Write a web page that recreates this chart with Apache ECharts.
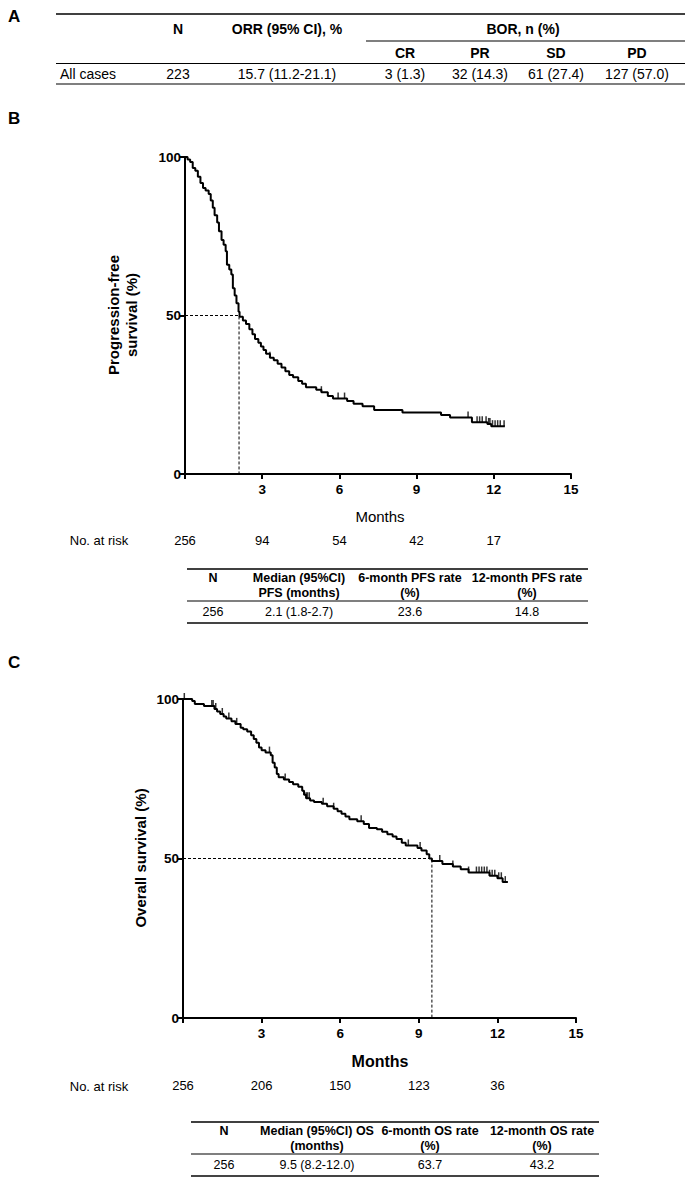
<!DOCTYPE html>
<html><head><meta charset="utf-8">
<script src="https://cdn.jsdelivr.net/npm/echarts@6/dist/echarts.min.js"></script>
<style>html,body{margin:0;padding:0;background:#fff}#c{width:685px;height:1178px}</style>
</head><body><div id="c"></div>
<script>
// ---------- DATA ----------
const xTickValues = [0, 3, 6, 9, 12, 15];
const riskTimes = [0, 3, 6, 9, 12];
const pfsRisk = [256, 94, 54, 42, 17];
const osRisk = [256, 206, 150, 123, 36];

const pfsTime = [0,0.1,0.2,0.3,0.4,0.5,0.6,0.7,0.8,0.92,1.0,1.08,1.15,1.25,1.32,1.42,1.5,1.58,1.63,1.72,1.8,1.86,1.93,2.0,2.08,2.12,2.25,2.37,2.5,2.62,2.72,2.85,2.95,3.05,3.15,3.3,3.45,3.6,3.75,3.9,4.05,4.2,4.4,4.55,4.7,5.1,5.3,5.55,5.75,6.3,6.55,6.9,7.35,8.45,9.95,10.3,11.15,11.75,11.9,12.43];
const pfsSurv = [100,99.2,98.4,96.5,95.7,93.8,91.8,90.2,89.4,88.3,86.3,84.0,81.6,79.3,76.6,73.8,72.3,70.3,66.0,64.5,62.9,58.6,56.3,53.9,51.2,49.6,48.4,47.3,45.7,44.1,42.6,41.4,40.2,39.1,37.9,36.7,35.9,34.8,33.6,32.4,31.2,30.5,29.3,28.5,27.4,26.6,25.8,24.6,23.8,23.0,22.2,21.4,20.2,19.4,18.6,17.8,16.3,15.8,15.1,15.1];
const pfsCensor = [3.3,5.3,5.95,6.2,11.0,11.35,11.45,11.55,11.7,11.8,11.85,11.95,12.05,12.15,12.25,12.4];

const osTime = [0,0.35,0.45,0.8,1.2,1.3,1.42,1.55,1.65,1.85,2.0,2.2,2.3,2.45,2.6,2.7,2.8,2.9,3.0,3.15,3.35,3.42,3.5,3.58,3.65,3.85,4.05,4.2,4.4,4.55,4.62,4.7,4.85,5.0,5.3,5.5,5.75,5.9,6.05,6.2,6.35,6.65,6.9,7.1,7.4,7.6,7.8,8.0,8.15,8.35,8.5,8.95,9.1,9.3,9.4,9.5,9.9,10.3,10.6,10.9,11.7,12.0,12.2,12.4];
const osSurv = [100,99.4,98.4,97.8,96.9,96.1,95.3,94.5,93.9,93.0,92.2,91.0,90.5,89.8,88.6,87.5,86.3,84.8,83.9,83.2,82.4,80.0,78.5,76.5,75.5,74.8,74.0,73.3,72.5,71.2,70.0,68.9,68.2,67.7,67.2,66.4,65.6,64.8,64.0,63.2,62.3,61.7,60.8,59.6,59.2,58.4,57.6,56.9,56.1,54.9,54.1,53.3,52.5,51.3,50.0,49.2,48.3,47.5,46.6,45.6,44.6,43.8,42.6,42.6];
const osCensor = [0.05,1.1,1.15,1.25,1.5,1.75,2.05,3.3,3.9,4.7,4.75,4.82,5.35,5.75,6.8,8.6,9.05,9.8,10.3,10.9,11.2,11.3,11.4,11.5,11.6,11.7,11.8,11.9,12.05,12.15,12.3];

const pfsMedian = 2.1;
const osMedian = 9.5;

const tableAHead = ['N', 'ORR (95% CI), %'];
const tableABorTitle = 'BOR, n (%)';
const tableABorCols = ['CR', 'PR', 'SD', 'PD'];
const tableARow = ['All cases', '223', '15.7 (11.2-21.1)', '3 (1.3)', '32 (14.3)', '61 (27.4)', '127 (57.0)'];

const pfsTableHead = [['N', ''], ['Median (95%CI)', 'PFS (months)'], ['6-month PFS rate', '(%)'], ['12-month PFS rate', '(%)']];
const pfsTableRow = ['256', '2.1 (1.8-2.7)', '23.6', '14.8'];
const osTableHead = [['N', ''], ['Median (95%Cl) OS', '(months)'], ['6-month OS rate', '(%)'], ['12-month OS rate', '(%)']];
const osTableRow = ['256', '9.5 (8.2-12.0)', '63.7', '43.2'];

// ---------- HELPERS ----------
const FONT = '"Liberation Sans", Arial, sans-serif';
const NARROW = '"Liberation Sans Narrow", "Arial Narrow", "Liberation Sans", sans-serif';
function zip(a, b) { return a.map((v, i) => [v, b[i]]); }
function survAt(times, survs, t) { let s = survs[0]; for (let i = 0; i < times.length; i++) { if (times[i] <= t) s = survs[i]; } return s; }
function censorPts(times, survs, c) { return c.map(t => [t, survAt(times, survs, t)]); }
function riskFmt(arr) { return v => { const i = riskTimes.indexOf(v); return i >= 0 ? String(arr[i]) : ''; }; }
function txt(x, y, s, o) {
  o = o || {};
  return { type: 'text', x: x, y: y, rotation: o.rot || 0, silent: true,
    style: { text: s, fill: '#000', font: (o.w || 'normal') + ' ' + (o.size || 13) + 'px ' + (o.fam || FONT),
      textAlign: o.align || 'center', textVerticalAlign: 'middle', align: o.align || 'center', verticalAlign: 'middle', lineHeight: o.lh } };
}
function ln(x1, y1, x2, y2, w, c) { return { type: 'line', silent: true, shape: { x1, y1, x2, y2 }, style: { stroke: c || '#000', lineWidth: w || 1 } }; }

function mainX(grid) {
  return { gridIndex: grid, type: 'value', min: 0, max: 15, interval: 3,
    axisLine: { show: true, onZero: false, lineStyle: { color: '#000', width: 2 } },
    axisTick: { show: true, length: 5, lineStyle: { color: '#000', width: 2 } },
    axisLabel: { formatter: v => v === 0 ? '' : String(v), color: '#000', fontWeight: 'bold', fontSize: 13.5, fontFamily: FONT, margin: 8 },
    splitLine: { show: false } };
}
function riskX(grid, arr, off) {
  return { gridIndex: grid, type: 'value', min: 0, max: 15, interval: 3, position: 'bottom', offset: off,
    axisLine: { show: false }, axisTick: { show: false }, splitLine: { show: false },
    axisLabel: { formatter: riskFmt(arr), color: '#000', fontSize: 13, fontFamily: NARROW, margin: 0 } };
}
function mainY(grid) {
  return { gridIndex: grid, type: 'value', min: 0, max: 100, interval: 50,
    axisLine: { show: true, lineStyle: { color: '#000', width: 2 } },
    axisTick: { show: true, length: 5, lineStyle: { color: '#000', width: 2 } },
    axisLabel: { color: '#000', fontWeight: 'bold', fontSize: 13.5, fontFamily: FONT, margin: 4 },
    splitLine: { show: false } };
}
function kmSeries(xi, yi, times, survs, cens, med) {
  return [
    { type: 'line', xAxisIndex: xi, yAxisIndex: yi, data: [[0, 50], [med, 50], [med, 0]], symbol: 'none', silent: true,
      lineStyle: { color: '#000', width: 1, type: [3, 2] }, z: 1 },
    { type: 'line', xAxisIndex: xi, yAxisIndex: yi, data: zip(times, survs), step: 'end', symbol: 'none', silent: true,
      lineStyle: { color: '#000', width: 2 }, z: 3 },
    { type: 'scatter', xAxisIndex: xi, yAxisIndex: yi, data: censorPts(times, survs, cens), symbol: 'rect',
      symbolSize: [1.5, 6], symbolOffset: [0, -3], itemStyle: { color: '#000' }, silent: true, z: 4 }
  ];
}

// ---------- TABLES / TEXT ----------
const g = [];
g.push(txt(8, 16, 'A', { w: 'bold', size: 17, align: 'left' }));
g.push(txt(8, 118, 'B', { w: 'bold', size: 17, align: 'left' }));
g.push(txt(8, 662, 'C', { w: 'bold', size: 17, align: 'left' }));

// Table A
const aX = [60, 178, 287, 405, 480, 556, 637];
g.push(ln(56, 14, 685, 14, 1.5));
g.push(txt(aX[1], 29, tableAHead[0], { w: 'bold', size: 14, fam: NARROW }));
g.push(txt(aX[2], 29, tableAHead[1], { w: 'bold', size: 14, fam: NARROW }));
g.push(txt(523, 29, tableABorTitle, { w: 'bold', size: 14, fam: NARROW }));
g.push(ln(366, 41, 685, 41, 1.2));
tableABorCols.forEach((c, i) => g.push(txt(aX[3 + i], 53, c, { w: 'bold', size: 14, fam: NARROW })));
g.push(ln(56, 63.5, 685, 63.5, 1.2));
tableARow.forEach((c, i) => g.push(txt(aX[i], 74, c, { size: 14, fam: NARROW, align: i === 0 ? 'left' : 'center' })));
g.push(ln(56, 84, 685, 84, 1.2));

function smallTable(x1, x2, cols, top, head, row) {
  g.push(ln(x1, top, x2, top, 1.5));
  head.forEach((h, i) => {
    g.push(txt(cols[i], top + 9, h[0], { w: 'bold', size: 12.5, fam: NARROW }));
    if (h[1]) g.push(txt(cols[i], top + 24, h[1], { w: 'bold', size: 12.5, fam: NARROW }));
  });
  g.push(ln(x1, top + 32, x2, top + 32, 1.2));
  row.forEach((r, i) => g.push(txt(cols[i], top + 43, r, { size: 12.5, fam: NARROW })));
  g.push(ln(x1, top + 54, x2, top + 54, 2, '#444'));
}
smallTable(187, 588, [213, 299, 410, 527], 569, pfsTableHead, pfsTableRow);
smallTable(191, 599, [224, 317, 430, 542], 1122, osTableHead, osTableRow);

g.push(txt(122, 315, 'Progression-free\nsurvival (%)', { w: 'bold', size: 15, rot: Math.PI / 2, lh: 18 }));
g.push(txt(140, 858, 'Overall survival (%)', { w: 'bold', size: 15, rot: Math.PI / 2 }));
g.push(txt(380, 516, 'Months', { size: 15 }));
g.push(txt(380, 1061, 'Months', { w: 'bold', size: 16 }));
g.push(txt(99, 540, 'No. at risk', { size: 13, fam: NARROW }));
g.push(txt(99, 1086, 'No. at risk', { size: 13, fam: NARROW }));

// ---------- CHART ----------
const chart = echarts.init(document.getElementById('c'), null, { renderer: 'svg' });
chart.setOption({
  animation: false,
  backgroundColor: '#fff',
  grid: [
    { left: 185, top: 157, width: 386, height: 317 },
    { left: 183, top: 699, width: 393, height: 319 }
  ],
  xAxis: [mainX(0), riskX(0, pfsRisk, 60), mainX(1), riskX(1, osRisk, 61)],
  yAxis: [mainY(0), mainY(1)],
  series: [].concat(kmSeries(0, 0, pfsTime, pfsSurv, pfsCensor, pfsMedian), kmSeries(2, 1, osTime, osSurv, osCensor, osMedian)),
  graphic: { elements: g }
});
</script></body></html>
